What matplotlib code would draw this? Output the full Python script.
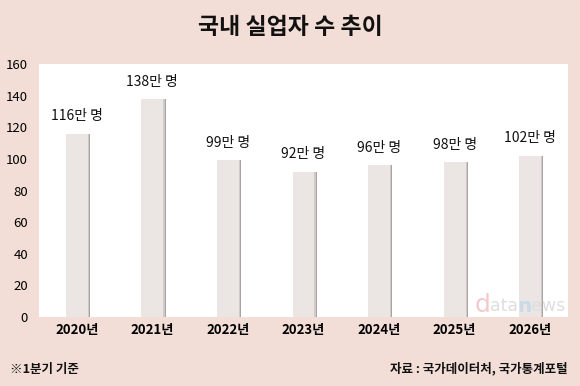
import numpy as np
import matplotlib.pyplot as plt

plt.rcParams['font.family'] = ['Noto Sans CJK KR', 'DejaVu Sans']

years = ["2020년", "2021년", "2022년", "2023년", "2024년", "2025년", "2026년"]
values = [116, 138, 99, 92, 96, 98, 102]
labels = ["116만 명", "138만 명", "99만 명", "92만 명", "96만 명", "98만 명", "102만 명"]

bg = '#f2ded6'
fig = plt.figure(figsize=(5.8, 3.86), dpi=100, facecolor=bg)
ax = fig.add_axes([39/580, 1-317/386, 529/580, 253/386])
ax.set_facecolor('white')

x = np.arange(len(years))
# shadow behind bars
ax.bar(x + 0.025, values, width=0.3, color='#a9a4a1', zorder=2)
ax.bar(x + 0.012, values, width=0.3, color='#cfcac7', zorder=2)
ax.bar(x, values, width=0.29, color='#ebe6e3', zorder=3)

for xi, v, lab in zip(x, values, labels):
    ax.text(xi, v + 6.5, lab, ha='center', va='bottom', fontsize=10,
            fontweight='medium', color='#111111')

ax.set_xlim(-0.5, len(years) - 0.5)
ax.set_ylim(0, 160)
ax.set_yticks(range(0, 161, 20))
ax.set_xticks(x)
ax.set_xticklabels(years, fontsize=9.5, fontweight='bold')
ax.tick_params(axis='y', labelsize=9.5, length=0, pad=8)
ax.tick_params(axis='x', length=0, pad=4)
for lab in ax.get_yticklabels():
    lab.set_fontweight('medium')
for s in ax.spines.values():
    s.set_visible(False)

# watermark, pieces chained so they sit side by side
t_d = ax.text((475 - 39) / 529, 0.0, 'd', fontsize=18, color='#f3c9cc',
              family='DejaVu Sans', ha='left', va='bottom', zorder=4,
              transform=ax.transAxes)
t_a = ax.annotate('ata', xy=(1, 0), xycoords=t_d, xytext=(-0.5, 1.2),
                  textcoords='offset points', fontsize=12.5, color='#dedede',
                  family='DejaVu Sans', ha='left', va='bottom', zorder=4)
t_n = ax.annotate('n', xy=(1, 0), xycoords=t_a, xytext=(-0.5, -0.6),
                  textcoords='offset points', fontsize=14.5, color='#c9dbe8',
                  family='DejaVu Sans', fontweight='bold', ha='left', va='bottom', zorder=4)
ax.annotate('ews', xy=(1, 0), xycoords=t_n, xytext=(-0.5, 0.6),
            textcoords='offset points', fontsize=12.5, color='#dedede',
            family='DejaVu Sans', ha='left', va='bottom', zorder=4)

fig.text(0.5, 1-27/386, '국내 실업자 수 추이', ha='center', va='center',
         fontsize=16.5, fontweight='heavy', color='#111111')
fig.text(10/580, 1-369/386, '※1분기 기준', ha='left', va='center',
         fontsize=9, fontweight='bold', color='#111111')
fig.text(568/580, 1-369/386, '자료 : 국가데이터처, 국가통계포털', ha='right', va='center',
         fontsize=9, fontweight='bold', color='#111111')

fig.savefig('out.png', dpi=100, facecolor=bg)
